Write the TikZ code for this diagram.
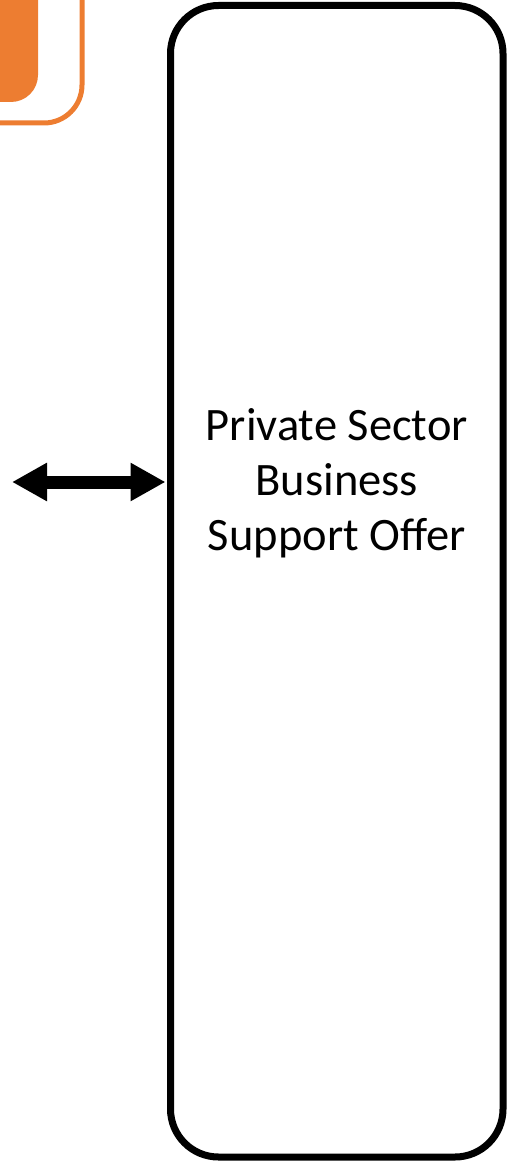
\documentclass[tikz,border=0pt]{standalone}
\usepackage{fontspec}
\setmainfont{Carlito}
\usetikzlibrary{arrows.meta}
\definecolor{offorange}{HTML}{ED7D31}
\tikzset{
  offerbox/.style={draw=black, line width=7pt, rounded corners=48pt, fill=white,
    minimum width=332.5pt, minimum height=1151.5pt, inner sep=0pt, outer sep=0pt},
  offertext/.style={font=\fontsize{46.5}{55}\selectfont, align=center, inner sep=0pt},
  bigarrow/.style={line width=13pt, {Triangle[length=35pt,width=36pt]}-{Triangle[length=35pt,width=36pt]}},
  orangeframe/.style={draw=offorange, line width=5pt, rounded corners=38pt},
  orangefill/.style={fill=offorange, rounded corners=27pt}
}
\begin{document}
\begin{tikzpicture}[x=1pt,y=1pt]
\useasboundingbox (0,0) rectangle (507,-1161);
% orange shapes top-left (partially cut off)
\begin{scope}
\clip (0,0) rectangle (507,-1161);
\path[orangeframe] (-80,60) rectangle (82,-123);
\path[orangefill] (-80,60) rectangle (38,-102);
\end{scope}
% main box
\node[offerbox] (offer) at (336.75,-581.25) {};
\node[offertext, anchor=base] (offerlabel) at (336.75,-550) {Private Sector\\Business\\Support Offer};
% double arrow
\coordinate (leftend) at (12,-482);
\draw[bigarrow] (leftend) -- ([xshift=-5pt]offer.west |- leftend);
\end{tikzpicture}
\end{document}
